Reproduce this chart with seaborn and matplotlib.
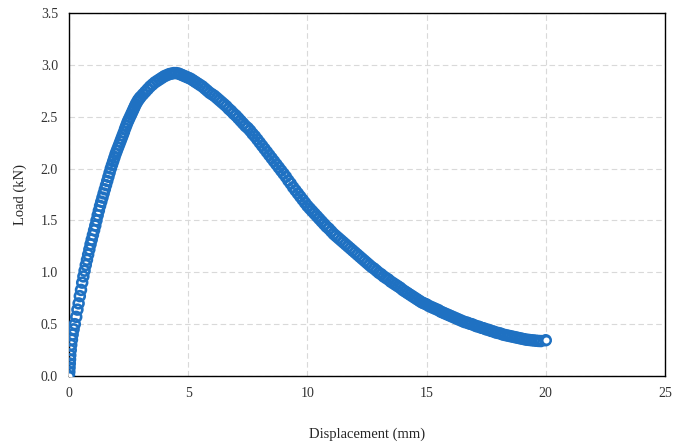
import matplotlib
matplotlib.use("Agg")
import matplotlib.pyplot as plt
import seaborn as sns
import pandas as pd

# initial steep rise
disp_a = [0.00, 0.01, 0.02, 0.03, 0.04, 0.05, 0.07, 0.09, 0.12, 0.15, 0.19, 0.24]
load_a = [0.00, 0.04, 0.08, 0.12, 0.16, 0.20, 0.25, 0.30, 0.35, 0.40, 0.45, 0.50]

# rising branch
disp_b = [0.30, 0.35, 0.40, 0.45, 0.50, 0.55, 0.60, 0.65, 0.70, 0.75, 0.80, 0.85, 0.90, 0.95,
          1.00, 1.05, 1.10, 1.15, 1.20, 1.25, 1.30, 1.35, 1.40, 1.45, 1.50, 1.55, 1.60, 1.65,
          1.70, 1.75, 1.80, 1.85, 1.90, 1.95, 2.00, 2.05, 2.10, 2.15, 2.20, 2.25, 2.30, 2.35,
          2.40, 2.45, 2.50, 2.55, 2.60, 2.65, 2.70, 2.75, 2.80, 2.85, 2.90, 2.95, 3.00]
load_b = [0.57, 0.64, 0.70, 0.77, 0.83, 0.90, 0.96, 1.015, 1.07, 1.12, 1.17, 1.22, 1.27, 1.315,
          1.36, 1.405, 1.45, 1.50, 1.55, 1.595, 1.64, 1.68, 1.72, 1.76, 1.80, 1.84, 1.88, 1.92,
          1.96, 2.00, 2.035, 2.07, 2.105, 2.14, 2.17, 2.20, 2.23, 2.26, 2.29, 2.32, 2.35, 2.385,
          2.415, 2.445, 2.47, 2.495, 2.52, 2.545, 2.57, 2.595, 2.62, 2.64, 2.66, 2.675, 2.69]

# peak and softening branch
disp_c = [3.1, 3.2, 3.3, 3.4, 3.5, 3.6, 3.7, 3.8, 3.9, 4.0, 4.1, 4.2, 4.3, 4.4, 4.5, 4.6,
          4.7, 4.8, 4.9, 5.0, 5.1, 5.2, 5.3, 5.4, 5.5, 5.6, 5.7, 5.8, 5.9, 6.0, 6.1, 6.2,
          6.3, 6.4, 6.5, 6.6, 6.7, 6.8, 6.9, 7.0, 7.1, 7.2, 7.3, 7.4, 7.5, 7.6, 7.7, 7.8,
          7.9, 8.0, 8.1, 8.2, 8.3, 8.4, 8.5, 8.6, 8.7, 8.8, 8.9, 9.0, 9.1, 9.2, 9.3, 9.4,
          9.5, 9.6, 9.7, 9.8, 9.9, 10.0, 10.1, 10.2, 10.3, 10.4, 10.5, 10.6, 10.7, 10.8,
          10.9, 11.0, 11.1, 11.2, 11.3, 11.4, 11.5, 11.6, 11.7, 11.8, 11.9, 12.0, 12.1,
          12.2, 12.3, 12.4, 12.5, 12.6, 12.7, 12.8, 12.9, 13.0, 13.1, 13.2, 13.3, 13.4,
          13.5, 13.6, 13.7, 13.8, 13.9, 14.0, 14.1, 14.2, 14.3, 14.4, 14.5, 14.6, 14.7,
          14.8, 14.9, 15.0, 15.1, 15.2, 15.3, 15.4, 15.5, 15.6, 15.7, 15.8, 15.9, 16.0,
          16.1, 16.2, 16.3, 16.4, 16.5, 16.6, 16.7, 16.8, 16.9, 17.0, 17.1, 17.2, 17.3,
          17.4, 17.5, 17.6, 17.7, 17.8, 17.9, 18.0, 18.1, 18.2, 18.3, 18.4, 18.5, 18.6,
          18.7, 18.8, 18.9, 19.0, 19.1, 19.2, 19.3, 19.4, 19.5, 19.6, 19.7, 19.8, 20.0]
load_c = [2.715, 2.74, 2.765, 2.79, 2.81, 2.83, 2.845, 2.86, 2.875, 2.89, 2.90, 2.91, 2.915, 2.92, 2.92, 2.915,
          2.905, 2.895, 2.885, 2.875, 2.865, 2.85, 2.835, 2.82, 2.805, 2.79, 2.77, 2.75, 2.73, 2.715, 2.70, 2.68,
          2.66, 2.64, 2.62, 2.60, 2.575, 2.555, 2.53, 2.51, 2.485, 2.46, 2.435, 2.41, 2.39, 2.365, 2.335, 2.31,
          2.28, 2.25, 2.22, 2.19, 2.16, 2.13, 2.10, 2.07, 2.04, 2.01, 1.98, 1.95, 1.92, 1.885, 1.855, 1.82,
          1.79, 1.76, 1.73, 1.70, 1.67, 1.64, 1.615, 1.59, 1.565, 1.54, 1.515, 1.49, 1.465, 1.44,
          1.42, 1.395, 1.37, 1.35, 1.33, 1.31, 1.29, 1.27, 1.25, 1.23, 1.21, 1.19, 1.17,
          1.15, 1.13, 1.11, 1.09, 1.07, 1.05, 1.035, 1.015, 0.995, 0.98, 0.96, 0.945, 0.93,
          0.91, 0.895, 0.88, 0.865, 0.85, 0.83, 0.815, 0.80, 0.785, 0.77, 0.755, 0.74, 0.725,
          0.71, 0.70, 0.69, 0.675, 0.665, 0.655, 0.645, 0.635, 0.62, 0.61, 0.60, 0.59, 0.58,
          0.57, 0.56, 0.55, 0.54, 0.53, 0.52, 0.515, 0.505, 0.50, 0.49, 0.48, 0.475, 0.465,
          0.46, 0.45, 0.445, 0.435, 0.43, 0.42, 0.415, 0.41, 0.40, 0.395, 0.39, 0.385, 0.38,
          0.375, 0.37, 0.365, 0.36, 0.355, 0.35, 0.348, 0.345, 0.343, 0.34, 0.338, 0.337, 0.345]

x_ticks = [0, 5, 10, 15, 20, 25]
y_ticks = [0.0, 0.5, 1.0, 1.5, 2.0, 2.5, 3.0, 3.5]

df = pd.DataFrame({"Displacement (mm)": disp_a + disp_b + disp_c,
                   "Load (kN)": load_a + load_b + load_c})
ends = df.iloc[[0, -1]]

sns.set_style("white")
plt.rcParams["font.family"] = ["Liberation Serif", "DejaVu Serif"]

fig, ax = plt.subplots(figsize=(6.84, 4.45), dpi=100)
fig.subplots_adjust(left=0.101, right=0.972, top=0.971, bottom=0.155)

blue = "#1F71C2"
sns.scatterplot(data=df, x="Displacement (mm)", y="Load (kN)", ax=ax,
                marker="o", s=50, facecolor="none", edgecolor=blue,
                linewidth=1.9, zorder=3)
sns.scatterplot(data=ends, x="Displacement (mm)", y="Load (kN)", ax=ax,
                marker="o", s=34, facecolor="white", edgecolor=blue,
                linewidth=1.5, zorder=4)

ax.set_xlim(0, 25)
ax.set_ylim(0, 3.5)
ax.set_xticks(x_ticks)
ax.set_yticks(y_ticks)
ax.set_xticklabels([str(v) for v in x_ticks])
ax.set_yticklabels([f"{v:.1f}" for v in y_ticks])
ax.grid(True, color="#D9D9D9", linestyle=(0, (5, 3)), linewidth=0.8)
ax.set_axisbelow(True)
for sp in ax.spines.values():
    sp.set_visible(True)
    sp.set_color("black")
    sp.set_linewidth(1.0)
ax.tick_params(direction="in", length=4, width=0.8, labelsize=10, colors="black",
               labelcolor="#333333", pad=8)
ax.set_xlabel("Displacement (mm)", fontsize=10.5, labelpad=20)
ax.set_ylabel("Load (kN)", fontsize=10.5, labelpad=10)

fig.savefig("out.png", dpi=100)
